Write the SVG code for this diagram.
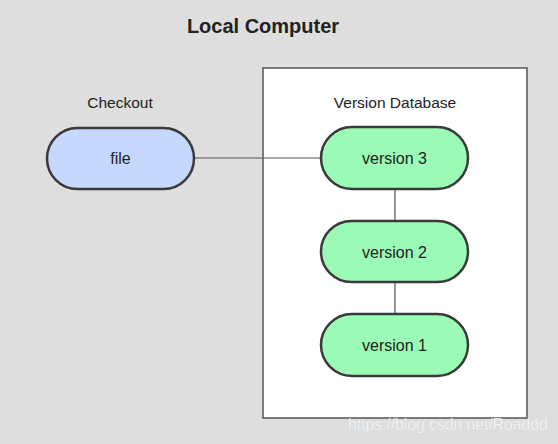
<svg xmlns="http://www.w3.org/2000/svg" width="558" height="444" viewBox="0 0 558 444">
<style>
.lbl{font-family:"Liberation Sans",Arial,sans-serif;fill:#222;text-anchor:middle}
.pill{stroke:#3a3a3a;stroke-width:2.5}
.blue{fill:#c6d9fd}
.green{fill:#9bfbb6}
.conn{stroke:#555;stroke-width:1.2;fill:none}
</style>
<rect x="0" y="0" width="558" height="444" fill="#dedede"/>
<text class="lbl" x="263" y="33" font-size="20" font-weight="bold" fill="#111">Local Computer</text>
<g id="database">
<rect x="263" y="68" width="264" height="350" fill="#ffffff" stroke="#555" stroke-width="1.5"/>
<text class="lbl" x="395" y="108" font-size="15.5">Version Database</text>
</g>
<g id="connectors">
<line class="conn" x1="194" y1="158" x2="321" y2="158"/>
<line class="conn" x1="395" y1="189" x2="395" y2="221"/>
<line class="conn" x1="395" y1="282" x2="395" y2="314"/>
</g>
<g id="checkout">
<text class="lbl" x="120" y="108" font-size="15.5">Checkout</text>
</g>
<g id="file">
<rect class="pill blue" x="47" y="128" width="147" height="61" rx="30.5"/>
<text class="lbl" x="120.5" y="164" font-size="16">file</text>
</g>
<g id="version3">
<rect class="pill green" x="321" y="127" width="147" height="62" rx="31"/>
<text class="lbl" x="394.5" y="164" font-size="16">version 3</text>
</g>
<g id="version2">
<rect class="pill green" x="321" y="221" width="147" height="61" rx="30.5"/>
<text class="lbl" x="394.5" y="257.5" font-size="16">version 2</text>
</g>
<g id="version1">
<rect class="pill green" x="321" y="314" width="147" height="62" rx="31"/>
<text class="lbl" x="394.5" y="351" font-size="16">version 1</text>
</g>
<text x="348" y="430" font-family="Liberation Sans,Arial,sans-serif" font-size="15.7" fill="#ffffff" fill-opacity="0.85" stroke="#999" stroke-opacity="0.25" stroke-width="0.5">https://blog.csdn.net/Roaddd</text>
</svg>
